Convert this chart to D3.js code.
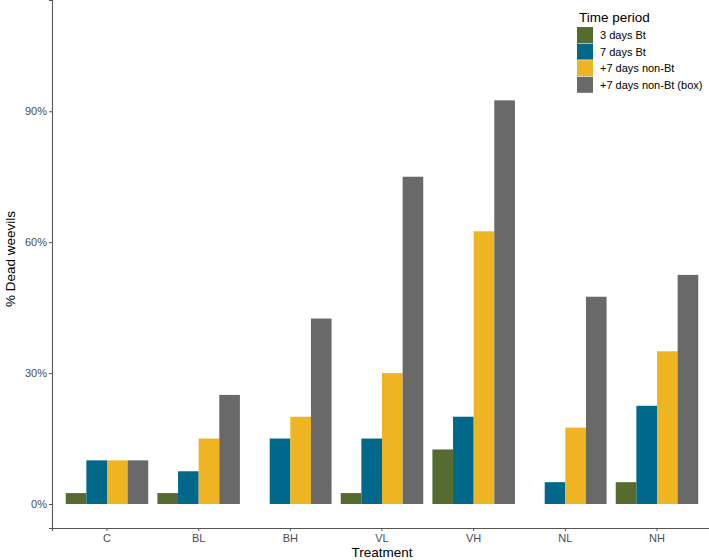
<!DOCTYPE html>
<html>
<head>
<meta charset="utf-8">
<script src="https://cdn.jsdelivr.net/npm/d3@7"></script>
<style>
  html, body { margin: 0; padding: 0; background: #fff; }
  svg { display: block; font-family: Arial, "Liberation Sans", sans-serif; }
</style>
</head>
<body>
<svg id="chart" width="709" height="560"></svg>
<script>
const treatments = ["C", "BL", "BH", "VL", "VH", "NL", "NH"];
const periods = ["3 days Bt", "7 days Bt", "+7 days non-Bt", "+7 days non-Bt (box)"];
const days3Bt     = [2.5, 2.5, 0, 2.5, 12.5, 0, 5];
const days7Bt     = [10, 7.5, 15, 15, 20, 5, 22.5];
const days7NonBt  = [10, 15, 20, 30, 62.5, 17.5, 35];
const days7NonBtBox = [10, 25, 42.5, 75, 92.5, 47.5, 52.5];
const yTicks = [0, 30, 60, 90];
const colors = ["#556B2F", "#00688B", "#EEB422", "#696969"];

(function () {
const seriesValues = [days3Bt, days7Bt, days7NonBt, days7NonBtBox];
const rows = treatments.map((t, i) => ({
  treatment: t,
  values: periods.map((p, j) => ({ period: p, value: seriesValues[j][i] }))
}));

const svg = d3.select("#chart");
const mLeft = 52, mRight = 712, mTop = 0, mBottom = 528;

const x0 = d3.scaleBand().domain(treatments).range([mLeft, mRight]).paddingInner(0).paddingOuter(0.1);
const bw = x0.bandwidth();
const x1 = d3.scaleBand().domain(periods).range([bw * 0.05, bw * 0.95]).padding(0);
const y = d3.scaleLinear().domain([-5.5, 115.5]).range([mBottom, mTop]);
const color = d3.scaleOrdinal().domain(periods).range(colors);

// bars
const g = svg.append("g");
g.selectAll("g.grp").data(rows).join("g")
  .attr("class", "grp")
  .attr("transform", d => `translate(${x0(d.treatment)},0)`)
  .selectAll("rect").data(d => d.values).join("rect")
  .attr("x", d => x1(d.period))
  .attr("width", x1.bandwidth())
  .attr("y", d => y(Math.max(0, d.value)))
  .attr("height", d => Math.abs(y(0) - y(d.value)))
  .attr("fill", d => color(d.period));

// axes
const yAxis = d3.axisLeft(y).tickValues(yTicks).tickFormat(d => d + "%").tickSizeOuter(0).tickSize(3).tickPadding(2);
const yg = svg.append("g").attr("transform", `translate(${mLeft},0)`).call(yAxis);
yg.select(".domain").attr("stroke", "#555").attr("stroke-width", 1.1);
yg.selectAll(".tick line").attr("stroke", "#555");
yg.selectAll(".tick text").attr("fill", "#4D4D4D").attr("font-size", "11px")
  .attr("font-family", "Arial, 'Liberation Sans', sans-serif");

const xAxis = d3.axisBottom(x0).tickSizeOuter(0).tickSize(3).tickPadding(3);
const xg = svg.append("g").attr("transform", `translate(0,${mBottom})`).call(xAxis);
xg.select(".domain").attr("stroke", "#555").attr("stroke-width", 1.1);
xg.selectAll(".tick line").attr("stroke", "#555");
xg.selectAll(".tick text").attr("fill", "#4D4D4D").attr("font-size", "11px")
  .attr("font-family", "Arial, 'Liberation Sans', sans-serif");

// axis titles
svg.append("text").attr("x", 382).attr("y", 557)
  .attr("text-anchor", "middle").attr("font-size", "13.5px").attr("fill", "#000")
  .text("Treatment");
svg.append("text").attr("transform", `translate(14.5,${(mTop + mBottom) / 2 - 5}) rotate(-90)`)
  .attr("text-anchor", "middle").attr("font-size", "13.5px").attr("fill", "#000")
  .text("% Dead weevils");

// legend
const lg = svg.append("g").attr("transform", "translate(577,0)");
lg.append("text").attr("x", 2).attr("y", 22).attr("font-size", "13.5px").attr("fill", "#000").text("Time period");
const items = lg.selectAll("g.item").data(periods).join("g")
  .attr("class", "item")
  .attr("transform", (d, i) => `translate(0,${27 + i * 16.6})`);
items.append("rect").attr("width", 16).attr("height", 16).attr("fill", d => color(d));
items.append("text").attr("x", 23).attr("y", 12).attr("font-size", "11px").attr("fill", "#000").text(d => d);
})();
</script>
</body>
</html>
